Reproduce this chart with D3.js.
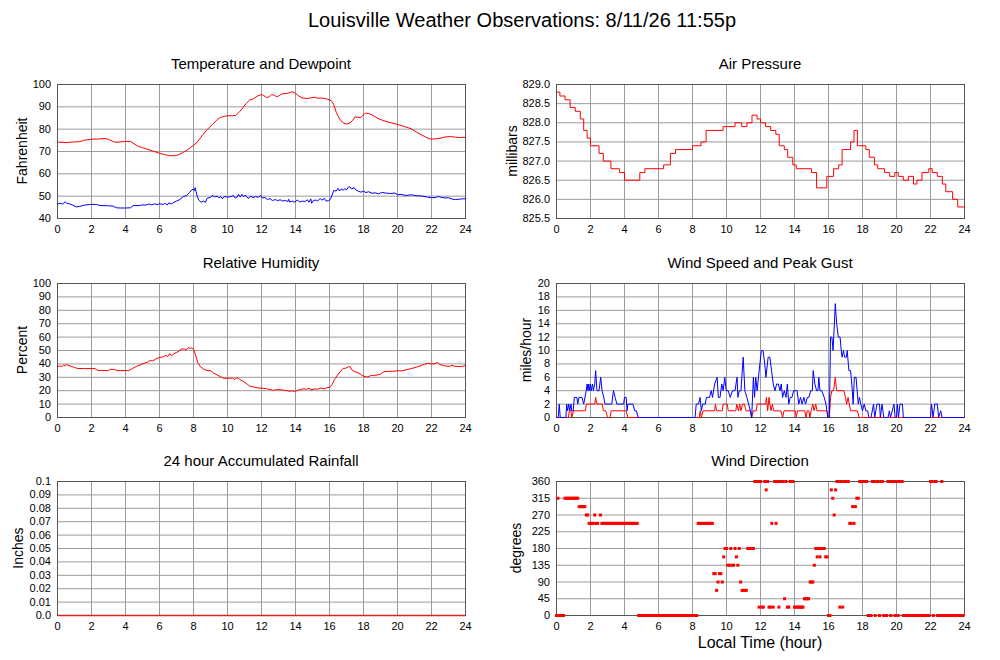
<!DOCTYPE html>
<html><head><meta charset="utf-8">
<script src="https://cdn.jsdelivr.net/npm/d3@7"></script>
<style>
body{margin:0;background:#fff;}
svg{display:block;font-family:"Liberation Sans",Arial,Helvetica,sans-serif;}
</style>
</head><body>
<svg id="c" width="1000" height="660"></svg>
<script>
// ---------------- DATA ----------------
const mainTitle = "Louisville Weather Observations: 8/11/26 11:55p";
const hourTicks = [0,2,4,6,8,10,12,14,16,18,20,22,24];

const tempTicks = [40,50,60,70,80,90,100];
const tempF = [[0,74.2],[0.5,74],[1,74.3],[1.3,74.4],[1.6,75.1],[2,75.5],[2.4,75.6],[2.8,75.8],[3.0,75.4],[3.3,74.4],[3.5,74.1],[3.8,74.4],[4.0,74.5],[4.3,74.5],[4.5,73.5],[4.7,72.5],[5.0,71.7],[5.5,70.5],[6.0,69.2],[6.3,68.6],[6.6,68.1],[6.9,68.1],[7.1,68.5],[7.4,69.6],[7.7,71],[8.0,72.8],[8.2,74],[8.5,77],[8.8,79.8],[9.1,82],[9.4,84.3],[9.6,85.3],[9.8,85.7],[10.0,86],[10.3,86],[10.5,86.2],[10.7,87.8],[10.9,89.5],[11.1,91.5],[11.3,93],[11.5,93.5],[11.8,95],[12.0,95.5],[12.1,95.2],[12.3,94.2],[12.45,94.4],[12.6,95.5],[12.75,95.2],[12.9,94.5],[13.05,95.1],[13.2,95.8],[13.5,96],[13.7,96.5],[13.8,96.8],[14.0,96],[14.2,94.8],[14.4,94],[14.7,93.7],[14.9,94],[15.1,94.3],[15.3,93.9],[15.6,93.9],[15.9,93.4],[16.1,92.8],[16.25,91],[16.4,87.5],[16.6,84.5],[16.8,82.8],[17.0,82.3],[17.2,82.7],[17.35,83.8],[17.5,85.5],[17.65,85.4],[17.8,85.1],[17.95,86],[18.1,87.2],[18.3,87],[18.5,86.4],[18.8,85],[19.1,84],[19.5,83.1],[20.0,82.1],[20.4,81.2],[20.8,80.2],[21.2,78.3],[21.6,76.7],[21.9,75.6],[22.2,75.6],[22.5,75.9],[22.8,76.5],[23.1,76.7],[23.4,76.4],[23.7,76.2],[23.9,76.4],[24,76.2]];
const dewpointF = [[0,46.5],[0.2,46.8],[0.3,46.4],[0.45,47.5],[0.55,46.8],[0.7,46.6],[0.9,46],[1.1,45.2],[1.3,45.4],[1.6,46],[1.9,46.3],[2.3,46.3],[2.5,45.8],[3.0,45.7],[3.3,45.5],[3.45,44.8],[3.7,44.7],[4.0,44.7],[4.3,44.8],[4.45,45.8],[4.8,45.8],[5.0,46.1],[5.2,46.0],[5.4,46.5],[5.55,46.1],[5.7,46.6],[5.85,46.2],[6.0,46.6],[6.2,46.3],[6.35,46.8],[6.45,46.0],[6.55,47.0],[6.7,46.5],[6.85,47.3],[7.0,47.8],[7.2,48.5],[7.4,49.8],[7.6,50.3],[7.75,51.5],[7.9,52.8],[8.0,53.2],[8.05,52.5],[8.1,53.8],[8.2,50.5],[8.3,48.3],[8.45,47.3],[8.6,47.8],[8.7,47.2],[8.8,49],[9.0,49.5],[9.1,50.3],[9.25,49.7],[9.4,50],[9.5,49.3],[9.6,49.8],[9.7,48.8],[9.8,49.8],[10.0,49.6],[10.2,49.8],[10.35,50.3],[10.45,49.2],[10.55,49.5],[10.65,50.8],[10.75,49.6],[10.85,50.8],[10.95,49.8],[11.05,50.5],[11.15,49.5],[11.25,49],[11.35,50],[11.5,49.4],[11.65,49.8],[11.8,49.5],[11.95,50.3],[12.05,49.2],[12.2,49.4],[12.35,48.5],[12.5,48.9],[12.65,48],[12.8,48.5],[12.95,48],[13.1,48.4],[13.25,47.8],[13.4,48.1],[13.55,47.6],[13.6,48.6],[13.65,47.4],[13.8,47.8],[13.95,47.3],[14.1,48.3],[14.25,47.4],[14.4,47.8],[14.55,47.6],[14.7,48.4],[14.8,47.3],[14.9,48.8],[14.95,46.8],[15.05,48],[15.2,48.3],[15.3,47.8],[15.45,49],[15.55,48.2],[15.7,49],[15.8,47.8],[15.95,48],[16.05,48.6],[16.15,50.5],[16.25,52.5],[16.4,52.3],[16.5,53.5],[16.6,52.3],[16.7,53.3],[16.8,52.6],[16.9,53.4],[17.0,52.8],[17.1,54],[17.2,54.2],[17.3,53.2],[17.45,53.8],[17.55,52.8],[17.7,52.2],[17.85,51.8],[18.0,52.2],[18.15,51.6],[18.3,52],[18.5,51.3],[18.7,51.5],[18.9,51],[19.05,51.7],[19.3,51.4],[19.6,51.2],[19.85,51.4],[20.0,50.6],[20.2,50.8],[20.5,50.3],[20.8,50.6],[21.1,50.2],[21.4,50.1],[21.7,49.7],[22.0,49.3],[22.25,49.4],[22.4,49.9],[22.55,49.5],[22.8,49.2],[23.0,49.3],[23.2,48.7],[23.4,48.5],[23.6,48.6],[23.8,48.8],[24,48.8]];

const pressureTicks = [825.5,826.0,826.5,827.0,827.5,828.0,828.5,829.0];
const pressureMb = [[0,828.8],[0.2,828.7],[0.5,828.6],[0.8,828.4],[1.1,828.3],[1.4,828.1],[1.6,827.8],[1.8,827.6],[2.0,827.4],[2.5,827.2],[2.75,827.0],[3.2,826.8],[3.7,826.7],[4.0,826.5],[4.9,826.7],[5.2,826.8],[6.3,826.9],[6.7,827.2],[7.0,827.3],[8.0,827.4],[8.5,827.5],[8.8,827.8],[9.8,827.9],[10.5,828.0],[10.9,827.9],[11.2,828.0],[11.5,828.2],[11.8,828.1],[12.0,828.0],[12.3,827.9],[12.6,827.8],[12.9,827.7],[13.1,827.4],[13.4,827.3],[13.6,827.1],[13.9,826.9],[14.1,826.8],[15.0,826.7],[15.3,826.3],[15.9,826.6],[16.3,826.8],[16.6,826.9],[16.8,827.3],[17.3,827.5],[17.5,827.8],[17.7,827.4],[18.2,827.3],[18.4,827.1],[18.7,826.9],[18.9,826.8],[19.3,826.7],[19.6,826.6],[19.9,826.7],[20.1,826.6],[20.4,826.5],[20.7,826.6],[21.0,826.4],[21.2,826.5],[21.5,826.7],[21.9,826.8],[22.1,826.7],[22.4,826.6],[22.7,826.4],[22.9,826.2],[23.3,826.0],[23.6,825.8],[24,825.8]];

const humidityTicks = [0,10,20,30,40,50,60,70,80,90,100];
const humidityPct = [[0,38],[0.15,38.5],[0.25,38],[0.35,39],[0.45,38.5],[0.52,39.8],[0.6,39],[0.8,38.2],[1.0,37.3],[1.2,36.6],[1.6,36.5],[2.2,36.5],[2.35,35.2],[3.0,35],[3.1,36],[3.35,35.8],[3.5,35],[4.2,35],[4.4,36.5],[4.7,38.5],[5.0,40],[5.3,41.3],[5.45,42.5],[5.6,42.2],[5.8,43.8],[6.0,44.8],[6.2,45.2],[6.35,46.3],[6.5,45.5],[6.6,47.8],[6.7,46],[6.85,47.5],[7.0,48.5],[7.15,49.5],[7.25,51],[7.45,51.2],[7.55,50.5],[7.7,52],[7.8,51.5],[7.9,52],[8.0,51],[8.1,47.5],[8.25,41],[8.4,38],[8.6,36],[8.8,35],[9.0,35],[9.2,33],[9.5,31],[9.75,29.3],[10.0,29.2],[10.3,29.5],[10.4,28.3],[10.55,29.8],[10.7,28.5],[10.9,27.2],[11.1,25.5],[11.3,23.5],[11.6,22.6],[11.8,22],[12.1,21.8],[12.3,21.5],[12.5,20.8],[12.7,20.3],[12.9,20.8],[13.2,20.6],[13.5,20],[13.7,19.5],[13.8,20],[13.95,19.3],[14.1,20.2],[14.3,20.8],[14.5,21.5],[14.65,21],[14.8,22],[14.9,20.5],[15.1,21.2],[15.35,21.3],[15.5,22],[15.7,21.3],[15.85,22.2],[16.0,22.5],[16.15,24.5],[16.3,28.5],[16.5,32],[16.65,34.5],[16.8,36.5],[16.95,36.8],[17.1,37.8],[17.2,38],[17.35,35],[17.6,33.8],[17.8,32.5],[18.0,30.8],[18.2,30.2],[18.45,31.3],[18.8,31.7],[19.0,32.3],[19.2,34.2],[19.5,34.5],[19.8,34.5],[20.0,35],[20.2,34.7],[20.5,35.5],[20.8,36.5],[21.1,37.5],[21.4,38.8],[21.6,39.8],[21.8,40.5],[22.0,40],[22.2,40.2],[22.35,41],[22.5,39.5],[22.7,38.8],[22.9,38.3],[23.1,38.2],[23.2,39],[23.35,38.2],[23.6,38],[23.8,38.1],[24,38.8]];

const windTicks = [0,2,4,6,8,10,12,14,16,18,20];
const windSpeedMph = [[0,0],[0.7,0],[0.75,1],[0.85,1],[0.9,0],[1.0,1],[1.7,1],[1.75,2],[2.25,2],[2.3,3],[2.38,2],[2.7,2],[2.75,1],[2.9,1],[3.0,0],[3.15,0],[3.22,1],[4.1,1],[4.2,0],[8.4,0],[8.45,1],[8.52,0],[8.62,1],[9.3,1],[9.35,2],[9.42,1],[9.75,1],[9.8,2],[10.05,2],[10.1,1],[10.55,1],[10.6,2],[10.7,1],[10.78,2],[10.85,1],[10.95,2],[11.05,2],[11.15,1],[11.4,1],[11.48,0],[11.58,1],[11.75,1],[11.8,2],[12.3,2],[12.35,3],[12.42,1],[12.5,3],[12.55,2],[12.62,1],[12.7,2],[12.78,1],[13.2,1],[13.3,0],[13.38,1],[14.05,1],[14.1,0],[14.18,1],[14.6,1],[14.68,0],[14.75,1],[14.85,1],[14.9,0],[14.98,1],[15.08,2],[15.15,1],[15.25,2],[15.32,1],[15.9,1],[16.0,0],[16.05,0],[16.12,3],[16.2,4],[16.3,4],[16.4,6],[16.48,4],[16.9,4],[17.0,3],[17.07,2],[17.15,3],[17.22,2],[17.3,1],[17.7,1],[17.8,0],[24,0]];
const windGustMph = [[0,0],[0.1,0],[0.16,2],[0.22,0],[0.55,0],[0.6,2],[0.65,1],[0.72,2],[0.78,1],[0.85,2],[0.9,1],[0.98,1],[1.05,3],[1.2,3],[1.25,2],[1.32,3],[1.5,3],[1.6,2],[1.75,4],[1.8,5],[1.85,4],[1.9,5],[1.95,4],[2.0,5],[2.05,4],[2.12,5],[2.17,4],[2.25,5],[2.3,7],[2.38,4],[2.5,4],[2.6,6],[2.68,4],[2.78,3],[2.85,2],[3.25,2],[3.35,4],[3.45,3],[3.55,2],[3.95,2],[4.0,3],[4.1,3],[4.15,1],[4.2,2],[4.5,2],[4.6,1],[4.7,1],[4.8,0],[8.15,0],[8.22,2],[8.35,2],[8.45,3],[8.52,1],[8.6,2],[8.75,2],[8.82,3],[9.0,3],[9.1,4],[9.18,3],[9.3,5],[9.45,6],[9.52,3],[9.62,3],[9.72,5],[9.8,4],[9.9,6],[9.98,4],[10.1,4],[10.22,3],[10.35,4],[10.5,4],[10.62,6],[10.67,3],[10.75,4],[10.85,4],[10.98,9],[11.08,4],[11.2,3],[11.3,2],[11.4,1],[11.48,0],[11.58,6],[11.65,3],[11.72,6],[11.8,4],[11.88,6],[12.05,10],[12.15,10],[12.25,8],[12.32,6],[12.45,9],[12.55,9],[12.65,7],[12.75,5],[12.85,4],[12.95,5],[13.05,5],[13.15,4],[13.22,5],[13.3,3],[13.4,4],[13.5,3],[13.58,5],[13.66,2],[13.75,3],[13.85,3],[13.95,4],[14.05,4],[14.15,4],[14.25,2],[14.35,3],[14.45,2],[14.55,3],[14.65,2],[14.75,3],[14.85,3],[14.95,4],[15.05,4],[15.1,7],[15.2,5],[15.3,4],[15.38,4],[15.43,6],[15.5,4],[15.6,4],[15.75,3],[15.85,2],[15.96,0],[16.05,0],[16.12,12],[16.2,12],[16.27,10],[16.4,17],[16.48,14],[16.58,12],[16.68,12],[16.75,10],[16.8,9],[16.88,10],[16.95,9],[17.05,9],[17.1,10],[17.2,7],[17.3,7],[17.4,4],[17.45,2],[17.52,6],[17.62,6],[17.75,2],[17.82,3],[17.9,2],[18.0,1],[18.1,2],[18.2,1],[18.3,1],[18.38,0],[18.5,0],[18.65,2],[18.72,0],[18.85,2],[19.0,2],[19.05,0],[19.15,2],[19.25,0],[19.5,0],[19.58,1],[19.65,0],[19.85,2],[19.92,0],[20.0,0],[20.05,2],[20.12,0],[20.2,2],[20.35,2],[20.4,0],[22.0,0],[22.06,2],[22.15,0],[22.25,2],[22.4,2],[22.48,0],[22.6,1],[22.68,0],[24,0]];

const rainTicks = [0,0.01,0.02,0.03,0.04,0.05,0.06,0.07,0.08,0.09,0.1];
const rainTickLabels = ["0.0","0.01","0.02","0.03","0.04","0.05","0.06","0.07","0.08","0.09","0.1"];
const rainInches = [[0,0],[24,0]];

const dirTicks = [0,45,90,135,180,225,270,315,360];
const dirMinutes = [0,5,10,15,20,25,30,35,40,45,50,55];
// one row per hour (0..23), one value per 5-minute slot, null = no report
const windDirDeg = [
 [0,315,0,0,0,0,315,315,315,315,315,315],
 [315,315,315,315,292.5,292.5,292.5,292.5,292.5,270,270,247.5],
 [247.5,247.5,247.5,270,247.5,247.5,null,270,247.5,247.5,247.5,247.5],
 [247.5,247.5,247.5,247.5,247.5,247.5,247.5,247.5,247.5,247.5,247.5,247.5],
 [247.5,247.5,247.5,247.5,247.5,247.5,247.5,247.5,247.5,247.5,0,0],
 [0,0,0,0,0,0,0,0,0,0,0,0],
 [0,0,0,0,0,0,0,0,0,0,0,0],
 [0,0,0,0,0,0,0,0,0,0,0,0],
 [0,0,0,0,247.5,247.5,247.5,247.5,247.5,247.5,247.5,247.5],
 [247.5,247.5,247.5,112.5,112.5,67.5,90,112.5,112.5,90,157.5,180],
 [180,135,135,180,135,135,180,157.5,135,180,90,67.5],
 [67.5,67.5,67.5,180,180,180,180,180,360,360,360,22.5],
 [360,22.5,22.5,360,337.5,360,22.5,22.5,247.5,22.5,360,247.5],
 [360,22.5,360,360,360,45,360,22.5,22.5,360,360,360],
 [22.5,22.5,22.5,22.5,22.5,22.5,22.5,45,45,45,45,90],
 [90,90,135,180,157.5,180,157.5,180,180,180,157.5,157.5],
 [0,0,337.5,315,270,337.5,360,360,22.5,360,22.5,360],
 [360,360,360,247.5,247.5,292.5,247.5,292.5,315,315,360,360],
 [360,360,360,360,0,0,0,360,360,0,360,360],
 [0,360,360,0,0,0,360,360,0,360,360,0],
 [360,0,360,360,360,0,0,0,0,0,0,0],
 [0,0,0,0,0,0,0,0,0,0,0,0],
 [360,360,0,360,360,0,0,0,360,0,0,0],
 [0,0,0,0,0,0,0,0,0,0,0,0]
];

// ---------------- DRAW ----------------
const svg = d3.select("#c");
svg.append("rect").attr("width",1000).attr("height",660).attr("fill","#fff");

const COLS = [[57,465],[556,964]];
const ROWS = [[84,218],[283,417],[481,615]];
const FONT = '"Liberation Sans",Arial,Helvetica,sans-serif';

svg.append("text").attr("x",522).attr("y",27).attr("text-anchor","middle")
  .attr("font-size",20).attr("fill","#000").text(mainTitle);

function panel(cfg){
  const [x0,x1] = COLS[cfg.col], [y0,y1] = ROWS[cfg.row];
  const x = d3.scaleLinear().domain([0,24]).range([x0,x1]);
  const y = d3.scaleLinear().domain([cfg.yTicks[0], cfg.yTicks[cfg.yTicks.length-1]]).range([y1,y0]);
  const g = svg.append("g");

  // grid
  const gx = g.append("g").attr("transform",`translate(0,${y1})`)
    .call(d3.axisBottom(x).tickValues(hourTicks).tickSize(-(y1-y0)).tickFormat(""));
  gx.select(".domain").remove();
  gx.selectAll("line").attr("stroke","#9c9c9c");
  const gy = g.append("g").attr("transform",`translate(${x0},0)`)
    .call(d3.axisLeft(y).tickValues(cfg.yTicks).tickSize(-(x1-x0)).tickFormat(""));
  gy.select(".domain").remove();
  gy.selectAll("line").attr("stroke","#9c9c9c");

  // frame
  g.append("rect").attr("x",x0+0.5).attr("y",y0+0.5).attr("width",x1-x0).attr("height",y1-y0)
    .attr("fill","none").attr("stroke","#555");

  // tick labels
  const lx = g.append("g").attr("transform",`translate(0,${y1})`)
    .call(d3.axisBottom(x).tickValues(hourTicks).tickSize(0).tickPadding(7));
  lx.select(".domain").remove();
  lx.attr("font-size",11).attr("font-family",FONT).attr("color","#000");
  const ly = g.append("g").attr("transform",`translate(${x0},0)`)
    .call(d3.axisLeft(y).tickValues(cfg.yTicks).tickSize(0).tickPadding(6).tickFormat(cfg.yFmt));
  ly.select(".domain").remove();
  ly.attr("font-size",11).attr("font-family",FONT).attr("color","#000");

  // titles
  g.append("text").attr("x",(x0+x1)/2).attr("y",y0-15).attr("text-anchor","middle")
    .attr("font-size",15).attr("fill","#000").text(cfg.title);
  g.append("text").attr("transform",`translate(${cfg.ylabX},${(y0+y1)/2}) rotate(-90)`)
    .attr("text-anchor","middle").attr("font-size",14).attr("fill","#000").text(cfg.ylabel);
  if (cfg.xlabel){
    g.append("text").attr("x",(x0+x1)/2).attr("y",648).attr("text-anchor","middle")
      .attr("font-size",16).attr("fill","#000").text(cfg.xlabel);
  }

  // series
  (cfg.lines||[]).forEach(s=>{
    const line = d3.line().x(d=>x(d[0])+0.5).y(d=>y(d[1])+0.5).curve(s.curve||d3.curveLinear);
    g.append("path").datum(s.data).attr("d",line).attr("fill","none")
      .attr("stroke",s.color).attr("stroke-width",s.width||1).attr("stroke-linejoin","round");
  });
  if (cfg.dots){
    const pts = [];
    cfg.dots.forEach((row,h)=>row.forEach((v,i)=>{ if(v!==null) pts.push([h+dirMinutes[i]/60, v]); }));
    g.append("g").selectAll("rect").data(pts).join("rect")
      .attr("x",d=>x(d[0])-1).attr("y",d=>y(d[1])-1)
      .attr("width",3).attr("height",3).attr("fill","#f00");
  }
}

const f1 = d3.format(".1f");
panel({col:0,row:0,title:"Temperature and Dewpoint",ylabel:"Fahrenheit",ylabX:27,yTicks:tempTicks,yFmt:d3.format("d"),
  lines:[{data:tempF,color:"#f00"},{data:dewpointF,color:"#00f"}]});
panel({col:1,row:0,title:"Air Pressure",ylabel:"millibars",ylabX:517,yTicks:pressureTicks,yFmt:f1,
  lines:[{data:pressureMb,color:"#f00",curve:d3.curveStepAfter}]});
panel({col:0,row:1,title:"Relative Humidity",ylabel:"Percent",ylabX:27,yTicks:humidityTicks,yFmt:d3.format("d"),
  lines:[{data:humidityPct,color:"#f00"}]});
panel({col:1,row:1,title:"Wind Speed and Peak Gust",ylabel:"miles/hour",ylabX:531,yTicks:windTicks,yFmt:d3.format("d"),
  lines:[{data:windSpeedMph,color:"#f00"},{data:windGustMph,color:"#00f"}]});
panel({col:0,row:2,title:"24 hour Accumulated Rainfall",ylabel:"Inches",ylabX:23,yTicks:rainTicks,yFmt:(d,i)=>rainTickLabels[i],
  lines:[{data:rainInches,color:"#d22",width:1.5}]});
panel({col:1,row:2,title:"Wind Direction",ylabel:"degrees",ylabX:521,yTicks:dirTicks,yFmt:d3.format("d"),
  dots:windDirDeg,xlabel:"Local Time (hour)"});
</script>
</body></html>
